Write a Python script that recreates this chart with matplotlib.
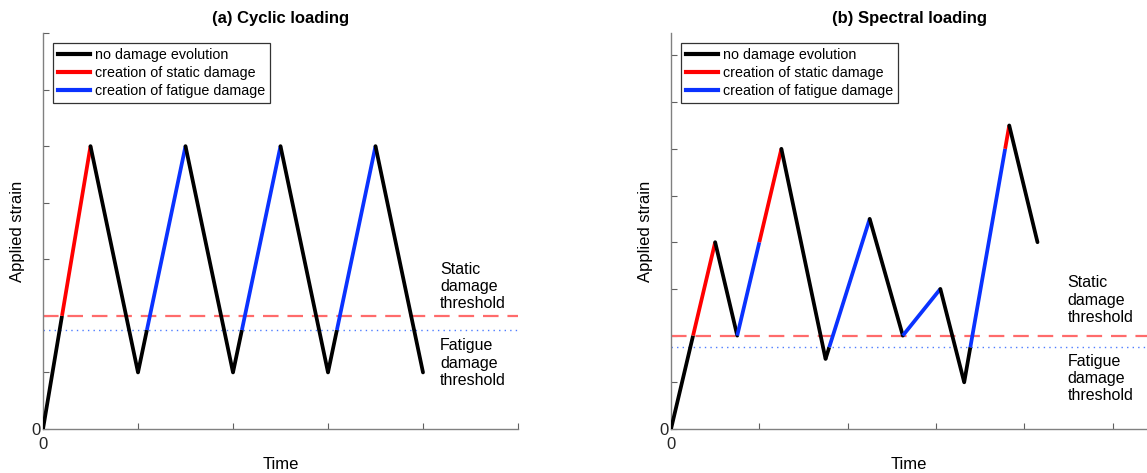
import matplotlib
matplotlib.use("Agg")
import matplotlib.pyplot as plt
from matplotlib.lines import Line2D

plt.rcParams["font.family"] = ["Liberation Sans", "DejaVu Sans"]

# thresholds (strain units)
static_thr = 2.0
fatigue_thr = 1.75

# (a) cyclic loading: turning points
cyc_t = [0, 0.5, 1.0, 1.5, 2.0, 2.5, 3.0, 3.5, 4.0]
cyc_y = [0, 5, 1, 5, 1, 5, 1, 5, 1]

# (b) spectral loading: turning points
spec_t = [0, 0.5, 0.75, 1.25, 1.75, 2.25, 2.625, 3.05, 3.32, 3.83, 4.15]
spec_y = [0, 4, 2, 6, 1.5, 4.5, 2, 3, 1, 6.5, 4]

legend_labels = ["no damage evolution", "creation of static damage",
                 "creation of fatigue damage"]

BLACK = "black"
RED = "#ff0000"
BLUE = "#0a32ff"
LW = 2.7


def draw_history(ax, t, y):
    # colour each rising branch: black below threshold, blue between
    # fatigue threshold and previous max, red above previous max
    ymax = static_thr
    first = True
    for i in range(len(t) - 1):
        t0, t1, a, b = t[i], t[i + 1], y[i], y[i + 1]
        if b <= a:
            ax.plot([t0, t1], [a, b], color=BLACK, lw=LW, solid_capstyle="round", zorder=3)
            continue
        low = ymax if first else fatigue_thr
        levels = sorted({a, b} | {v for v in (low, ymax) if a < v < b})
        for lo, hi in zip(levels[:-1], levels[1:]):
            mid = 0.5 * (lo + hi)
            if mid > ymax:
                c = RED
            elif mid > low:
                c = BLUE
            else:
                c = BLACK
            ta = t0 + (lo - a) / (b - a) * (t1 - t0)
            tb = t0 + (hi - a) / (b - a) * (t1 - t0)
            ax.plot([ta, tb], [lo, hi], color=c, lw=LW, solid_capstyle="butt", zorder=3)
        ymax = max(ymax, b)
        first = False


def style_axes(ax, xmax, ymax, title, lbl_x, static_y, fatigue_y):
    ax.set_xlim(0, xmax)
    ax.set_ylim(0, ymax)
    for s in ("top", "right"):
        ax.spines[s].set_visible(False)
    for s in ("left", "bottom"):
        ax.spines[s].set_color("#808080")
        ax.spines[s].set_linewidth(1.0)
    ax.set_xticks(range(6))
    ax.set_xticklabels(["0"] + [""] * 5)
    ny = int(ymax) + 1
    ax.set_yticks(range(ny))
    ax.set_yticklabels(["0"] + [""] * (ny - 1))
    ax.tick_params(direction="in", length=4, color="#606060", labelsize=12,
                   labelcolor="#262626")
    ax.tick_params(axis="x", pad=6)
    ax.tick_params(axis="y", pad=2)
    ax.set_title(title, fontsize=12, fontweight="bold", pad=7)
    ax.set_xlabel("Time", fontsize=12, labelpad=3)
    ax.set_ylabel("Applied strain", fontsize=12, labelpad=4)

    ax.axhline(static_thr, color="#ff6b6b", lw=1.6, ls=(0, (7, 4)), zorder=2, clip_on=False)
    ax.axhline(fatigue_thr, color="#4d7cff", lw=1.0, ls=(0, (1, 3)), zorder=2, clip_on=False)
    ax.text(lbl_x, static_y, "Static\ndamage\nthreshold", fontsize=11.5,
            va="center", ha="left", linespacing=1.2)
    ax.text(lbl_x, fatigue_y, "Fatigue\ndamage\nthreshold", fontsize=11.5,
            va="center", ha="left", linespacing=1.2)

    handles = [Line2D([], [], color=c, lw=3) for c in (BLACK, RED, BLUE)]
    leg = ax.legend(handles, legend_labels, loc="upper left",
                    bbox_to_anchor=(0.022, 0.975), fontsize=10.3, fancybox=False,
                    framealpha=1, edgecolor="#333333", handlelength=2.2,
                    handletextpad=0.35, labelspacing=0.27, borderpad=0.35,
                    borderaxespad=0)
    leg.get_frame().set_linewidth(0.9)


fig = plt.figure(figsize=(11.47, 4.73), dpi=100)
ax1 = fig.add_axes([43 / 1147, 44 / 473, 475 / 1147, 396 / 473])
ax2 = fig.add_axes([671 / 1147, 44 / 473, 476 / 1147, 396 / 473])

draw_history(ax1, cyc_t, cyc_y)
draw_history(ax2, spec_t, spec_y)

style_axes(ax1, 5.0, 7.0, "(a) Cyclic loading", 4.18, 2.52, 1.16)
style_axes(ax2, 5.39, 8.48, "(b) Spectral loading", 4.49, 2.76, 1.08)

fig.savefig("out.png", dpi=100)
